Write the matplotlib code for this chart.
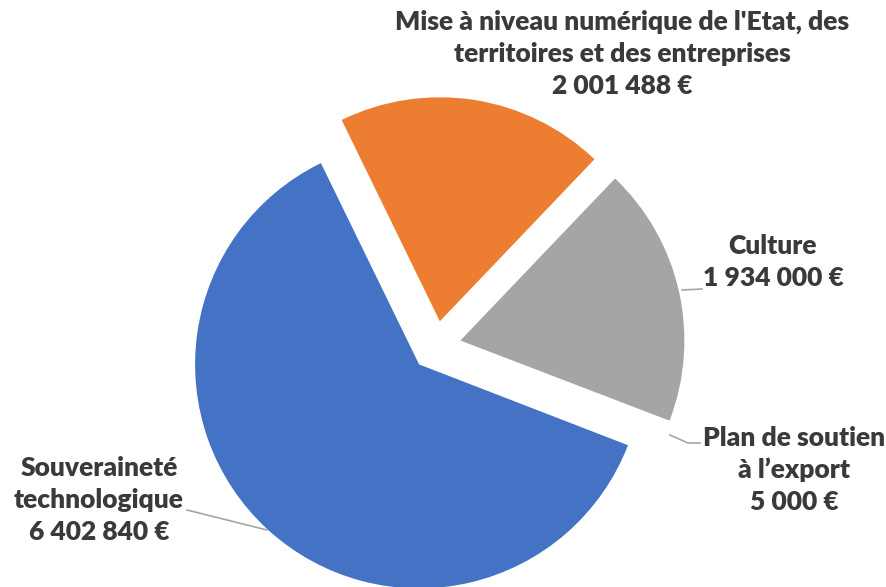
import matplotlib
matplotlib.use('Agg')
import matplotlib.pyplot as plt

# data (clockwise order starting at the top-left edge of the orange slice)
labels = ["Mise à niveau numérique de l'Etat, des\nterritoires et des entreprises",
          "Culture",
          "Plan de soutien\nà l\u2019export",
          "Souveraineté\ntechnologique"]
amounts = [2001488, 1934000, 5000, 6402840]
colors = ['#ED7D31', '#A5A5A5', '#FFFFFF', '#4472C4']


def euro(v):
    return f"{v:,}".replace(",", " ") + " €"


W, H = 887, 587
fig = plt.figure(figsize=(W / 100, H / 100), dpi=100)
ax = fig.add_axes([0, 0, 1, 1])

# pie centre / radius in pixel coordinates (y up); explode is in data units
cx, cy, r = 436, H - 346, 224
ax.pie(amounts, colors=colors, startangle=116, counterclock=False,
       explode=[25] * len(amounts), center=(cx, cy), radius=r,
       wedgeprops=dict(linewidth=0))
ax.set_xlim(0, W)
ax.set_ylim(0, H)
ax.set_aspect('equal')
ax.axis('off')

# data labels
label_pos = [(622, 54), (773, 262), (794, 470), (99, 500)]
font = dict(family=['Lato', 'DejaVu Sans'], fontweight='heavy', fontsize=19,
            color='#3A3A3A', ha='center', va='center', linespacing=1.4)
for lab, val, (x, y) in zip(labels, amounts, label_pos):
    ax.text(x, H - y, lab + "\n" + euro(val), **font)

# leader lines
line_kw = dict(color='#A6A6A6', linewidth=1.2)
ax.plot([682, 702], [H - 290, H - 289], **line_kw)
ax.plot([670, 688, 700], [H - 435, H - 443, H - 443], **line_kw)
ax.plot([267, 187], [H - 530, H - 510], **line_kw)

fig.savefig('out.png', dpi=100)
